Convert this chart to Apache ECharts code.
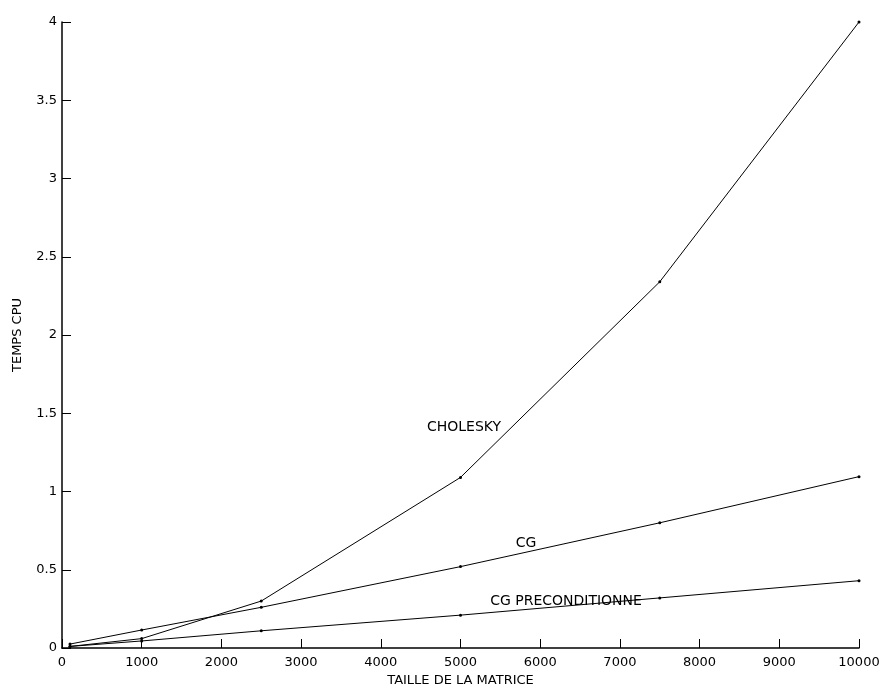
<!DOCTYPE html>
<html><head><meta charset="utf-8">
<script src="https://cdn.jsdelivr.net/npm/echarts@6/dist/echarts.min.js"></script>
<style>html,body{margin:0;padding:0;background:#fff}#c{width:886px;height:692px}</style>
</head><body><div id="c"></div>
<script>
const sizes = [100, 1000, 2500, 5000, 7500, 10000];
const cholesky = [0.01, 0.06, 0.30, 1.09, 2.34, 4.0];
const cg = [0.025, 0.115, 0.26, 0.52, 0.80, 1.095];
const cgPrecond = [0.01, 0.045, 0.11, 0.21, 0.32, 0.43];
const seriesNames = ['CHOLESKY', 'CG', 'CG PRECONDITIONNE'];
const labelCoords = [[5044, 1.41], [5822, 0.67], [6324, 0.30]];
const xTitle = 'TAILLE DE LA MATRICE';
const yTitle = 'TEMPS CPU';

const font = 'DejaVu Sans, Arial, sans-serif';
const allData = [cholesky, cg, cgPrecond];
const chart = echarts.init(document.getElementById('c'));
chart.setOption({
  animation: false,
  backgroundColor: '#fff',
  grid: {left: 62, right: 27, top: 22, bottom: 42, containLabel: false},
  xAxis: {
    type: 'value', min: 0, max: 10000, interval: 1000,
    name: xTitle, nameLocation: 'middle', nameGap: 26,
    nameTextStyle: {color: '#000', fontFamily: font, fontSize: 13},
    axisLine: {lineStyle: {color: '#000', width: 1.5}},
    axisTick: {inside: true, length: 9, lineStyle: {color: '#000'}},
    axisLabel: {color: '#000', fontFamily: font, fontSize: 13, margin: 8,
      formatter: v => String(v)},
    splitLine: {show: false}
  },
  yAxis: {
    type: 'value', min: 0, max: 4, interval: 0.5,
    name: yTitle, nameLocation: 'middle', nameGap: 38, nameRotate: 90,
    nameTextStyle: {color: '#000', fontFamily: font, fontSize: 13},
    axisLine: {lineStyle: {color: '#000', width: 1.5}},
    axisTick: {inside: true, length: 9, lineStyle: {color: '#000'}},
    axisLabel: {color: '#000', fontFamily: font, fontSize: 13, margin: 5},
    splitLine: {show: false}
  },
  series: allData.map((d, i) => ({
    name: seriesNames[i],
    type: 'line',
    data: d.map((v, j) => [sizes[j], v]),
    symbol: 'circle', symbolSize: 3,
    itemStyle: {color: '#000'},
    lineStyle: {color: '#000', width: 1},
    markPoint: {
      symbol: 'circle', symbolSize: 0,
      label: {show: true, formatter: seriesNames[i], color: '#000', fontFamily: font, fontSize: 14},
      data: [{coord: labelCoords[i]}]
    }
  }))
});
</script></body></html>
